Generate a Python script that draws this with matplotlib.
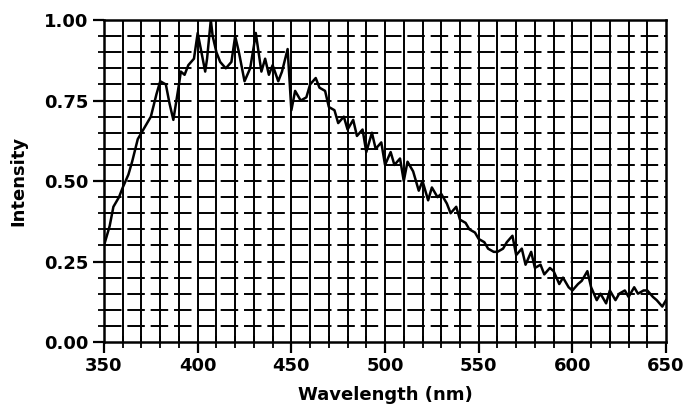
import numpy as np
import matplotlib.pyplot as plt
from matplotlib.ticker import MultipleLocator

# spectrum
wavelength = [350, 353, 355, 358, 360, 363, 365, 368, 370, 373, 375, 378, 380, 383,
              385, 387, 390, 391, 393, 395, 398, 400, 402, 404, 405, 407, 408, 410,
              412, 415, 418, 420, 422, 425, 428, 430, 431, 434, 436, 438, 440, 443,
              445, 448, 450, 452, 455, 458, 460, 463, 465, 468, 470, 473, 475, 478,
              480, 483, 485, 488, 490, 493, 495, 498, 500, 503, 505, 508, 510, 512,
              515, 518, 520, 523, 525, 528, 530, 533, 535, 538, 540, 543, 545, 548,
              550, 553, 555, 558, 560, 563, 565, 568, 570, 573, 575, 578, 580, 583,
              585, 588, 590, 593, 595, 598, 600, 603, 605, 608, 610, 613, 615, 618,
              620, 623, 625, 628, 630, 633, 635, 638, 640, 643, 645, 648, 650]
intensity = [0.30, 0.36, 0.42, 0.45, 0.48, 0.52, 0.56, 0.63, 0.65, 0.68, 0.70, 0.77, 0.81, 0.80,
             0.74, 0.69, 0.80, 0.84, 0.83, 0.86, 0.88, 0.96, 0.90, 0.84, 0.88, 1.00, 0.95, 0.90,
             0.87, 0.85, 0.87, 0.95, 0.90, 0.81, 0.85, 0.92, 0.96, 0.84, 0.88, 0.83, 0.86, 0.81,
             0.84, 0.91, 0.72, 0.78, 0.75, 0.76, 0.80, 0.82, 0.79, 0.78, 0.73, 0.72, 0.68, 0.70,
             0.66, 0.69, 0.64, 0.66, 0.59, 0.65, 0.60, 0.62, 0.55, 0.59, 0.55, 0.57, 0.50, 0.56,
             0.53, 0.47, 0.50, 0.44, 0.48, 0.45, 0.46, 0.43, 0.40, 0.42, 0.38, 0.37, 0.35, 0.34,
             0.32, 0.31, 0.29, 0.28, 0.28, 0.29, 0.31, 0.33, 0.27, 0.29, 0.24, 0.28, 0.23, 0.24,
             0.21, 0.23, 0.22, 0.18, 0.20, 0.17, 0.16, 0.18, 0.19, 0.22, 0.17, 0.13, 0.15, 0.12,
             0.16, 0.13, 0.15, 0.16, 0.14, 0.17, 0.15, 0.16, 0.16, 0.14, 0.13, 0.11, 0.13]

xticks = [350, 400, 450, 500, 550, 600, 650]
yticks = [0.00, 0.25, 0.50, 0.75, 1.00]

plt.rcParams['font.family'] = ['DejaVu Sans']
plt.rcParams['font.weight'] = 'bold'

fig = plt.figure(figsize=(6.88, 4.08), dpi=100)
ax = fig.add_axes([0.1512, 0.1618, 0.8169, 0.789])

# grid: vertical every 10 nm, horizontal every 0.05
for x in np.arange(360, 650, 10):
    ax.axvline(x, color='black', lw=1.4, zorder=1)
for y in np.arange(0.05, 1.0, 0.05):
    ax.axhline(y, color='black', lw=1.4, ls=(0, (9, 3)), zorder=1)

ax.plot(wavelength, intensity, color='black', lw=1.8, zorder=3)

ax.set_xlim(350, 650)
ax.set_ylim(0, 1.0)
ax.set_xticks(xticks)
ax.set_yticks(yticks)
ax.set_yticklabels([f"{v:.2f}" for v in yticks])
ax.xaxis.set_minor_locator(MultipleLocator(10))
ax.yaxis.set_minor_locator(MultipleLocator(0.05))
ax.tick_params(which='major', direction='out', length=8, width=1.6, labelsize=13, pad=3)
ax.tick_params(which='minor', direction='inout', length=8, width=1.3)
for s in ax.spines.values():
    s.set_linewidth(1.8)

ax.set_xlabel("Wavelength (nm)", fontsize=13, fontweight='bold', labelpad=8)
ax.set_ylabel("Intensity", fontsize=13, fontweight='bold', labelpad=12)

fig.savefig("out.png", dpi=100)
